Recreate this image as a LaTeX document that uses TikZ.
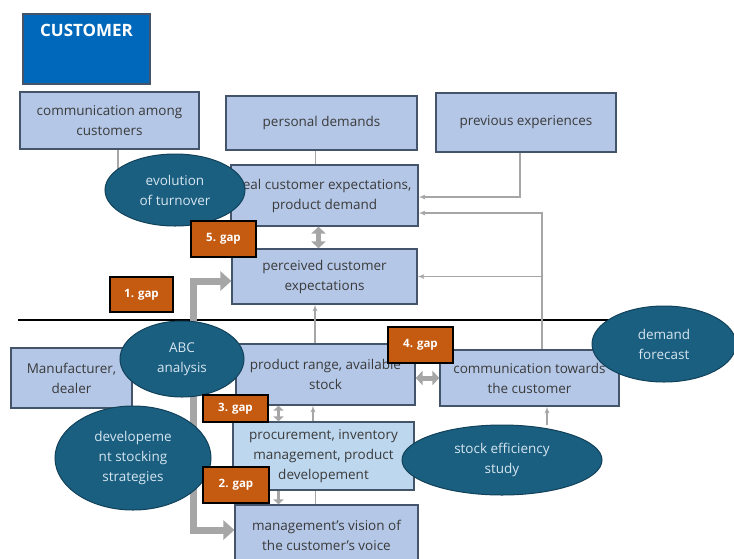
\documentclass[tikz,border=0pt]{standalone}
\usepackage{fontspec}
\setmainfont{Open Sans}
\usetikzlibrary{arrows}
\usetikzlibrary{arrows.meta}
\usetikzlibrary{shapes.geometric}

\definecolor{boxblue}{HTML}{B4C7E7}
\definecolor{boxlight}{HTML}{BDD7EE}
\definecolor{boxline}{HTML}{44546A}
\definecolor{custblue}{HTML}{0068BA}
\definecolor{gaporange}{HTML}{C55A11}
\definecolor{bubbleteal}{HTML}{1A5E80}
\definecolor{bubbletext}{HTML}{D6E6F0}
\definecolor{linkgray}{HTML}{A6A6A6}
\definecolor{textgray}{HTML}{3A3A3A}

\begin{document}
\begin{tikzpicture}[x=1pt, y=-1pt]
		\tikzset{dims/.style 2 args = {minimum width=#1pt, minimum height=#2pt}}
		\tikzset{box/.style = {shape=rectangle, draw=boxline, line width=1.2pt, fill=boxblue, text=textgray, align=center, inner sep=0pt, font=\fontsize{13.5}{20}\selectfont}}
		\tikzset{custbox/.style = {shape=rectangle, draw=boxline, line width=1.2pt, fill=custblue}}
		\tikzset{custtext/.style = {text=white, font=\fontsize{17}{18}\selectfont\bfseries, inner sep=0pt}}
		\tikzset{bubble/.style = {shape=ellipse, draw=bubbleteal!70!black, line width=1pt, fill=bubbleteal, text=bubbletext, align=center, inner sep=0pt, font=\fontsize{13.5}{20}\selectfont}}
		\tikzset{gapbox/.style = {shape=rectangle, draw=black, line width=1.2pt, fill=gaporange, text=white, inner sep=0pt, font=\fontsize{11.5}{12}\selectfont\bfseries}}
		\tikzset{feed/.style = {->, > = latex', draw=linkgray, line width=1.3pt}}
		\tikzset{link/.style = {draw=linkgray, line width=1.3pt}}
		\tikzset{flow/.style = {draw=linkgray, line width=5pt, > = {Triangle[length=7pt, width=14pt]}}}
		\tikzset{smallflow/.style = {draw=linkgray, line width=3.5pt, > = {Triangle[length=5pt, width=10pt]}}}
		\tikzset{bigflow/.style = {draw=linkgray, line width=7pt, > = {Triangle[length=11pt, width=19pt]}}}
		\useasboundingbox (0,0) rectangle (734,558);
		\clip (0,0) rectangle (734,558);
		% divider
		\coordinate (divL) at (18,320);
		\coordinate (divR) at (615,320);
		\draw[line width=1.5pt] (divL) -- (divR);
		% boxes
		\node[custbox, dims={127}{70}] (customer) at (86.5,49) {};
		\node[custtext] (custname) at ([yshift=-17pt]customer.north) {CUSTOMER};
		\node[box, dims={179}{57}] (comm) at (109.5,120.5) {communication among\\customers};
		\node[box, dims={191}{54}] (personal) at (321.5,123) {personal demands};
		\node[box, dims={180}{59}] (previous) at (526,122.5) {previous experiences};
		\node[box, dims={187}{61}] (real) at (324.5,195.5) {real customer expectations,\\product demand};
		\node[box, dims={185}{55}] (perceived) at (324.5,276.5) {perceived customer\\expectations};
		\node[box, dims={121}{60}] (maker) at (71.5,378) {Manufacturer,\\dealer};
		\node[box, dims={179}{61}] (product) at (325.5,374.5) {product range, available\\stock};
		\node[box, dims={179}{56}] (towards) at (529.5,378) {communication towards\\the customer};
		\node[box, fill=boxlight, dims={181}{68}] (procure) at (323.5,456) {procurement, inventory\\management, product\\developement};
		\node[box, dims={183}{60}] (vision) at (326.5,535) {management's vision of\\the customer's voice};
		% links
		\draw[feed] ([xshift=8.5pt]comm.south) |- (real.west);
		\draw[link] ([xshift=-6pt]personal.south) -- ([xshift=-6pt]personal.south |- real.north);
		\draw[feed] ([xshift=-6pt]previous.south) |- ([yshift=-1.5pt]real.east);
		\draw[feed] ([xshift=12.5pt]towards.north) |- ([yshift=-17.5pt]real.east);
		\coordinate (tap) at ([xshift=12.5pt]towards.north |- perceived.east);
		\draw[feed] (tap) -- (perceived.east);
		\draw[flow, <->] ([xshift=-6pt]real.south) -- ([xshift=-6pt]real.south |- perceived.north);
		\draw[feed] ([xshift=-10.5pt]product.north) -- ([xshift=-10.5pt]product.north |- perceived.south);
		\draw[flow, <->] (towards.west -| product.east) -- (towards.west);
		\draw[smallflow, <->] ([xshift=-47pt]product.south) -- ([xshift=-47pt]product.south |- procure.north);
		\draw[feed] ([xshift=-10.5pt]procure.north) -- ([xshift=-10.5pt]procure.north |- product.south);
		\draw[smallflow, ->] ([xshift=-45pt]procure.south) -- ([xshift=-45pt]procure.south |- vision.north);
		\draw[link] ([xshift=-8pt]procure.south) -- ([xshift=-8pt]procure.south |- vision.north);
		\draw[feed] ([xshift=17.5pt]towards.south |- 0,425) -- ([xshift=17.5pt]towards.south);
		\coordinate (bend) at (193,530);
		\draw[bigflow, <->] ([yshift=-4.5pt]perceived.west) -| (bend) -- (bend -| vision.west);
		% bubbles
		\node[bubble, dims={140}{72}] (turnover) at (175,190) {evolution\\of turnover};
		\node[bubble, dims={124}{76}] (abc) at (182,359) {ABC\\analysis};
		\node[bubble, dims={156}{104}] (strategy) at (133,458) {developeme\\nt stocking\\strategies};
		\node[bubble, dims={144}{76}] (forecast) at (664,344) {demand\\forecast};
		\node[bubble, dims={200}{70}] (efficiency) at (502,460) {stock efficiency\\study};
		% gaps
		\node[gapbox, dims={63}{35}] (gap1) at (141.5,294.5) {1. gap};
		\node[gapbox, dims={65}{36}] (gap5) at (223.5,239) {5. gap};
		\node[gapbox, dims={65}{36}] (gap4) at (420.5,345) {4. gap};
		\node[gapbox, dims={65}{27}] (gap3) at (235.5,408.5) {3. gap};
		\node[gapbox, dims={66}{36}] (gap2) at (236,485) {2. gap};
\end{tikzpicture}
\end{document}
